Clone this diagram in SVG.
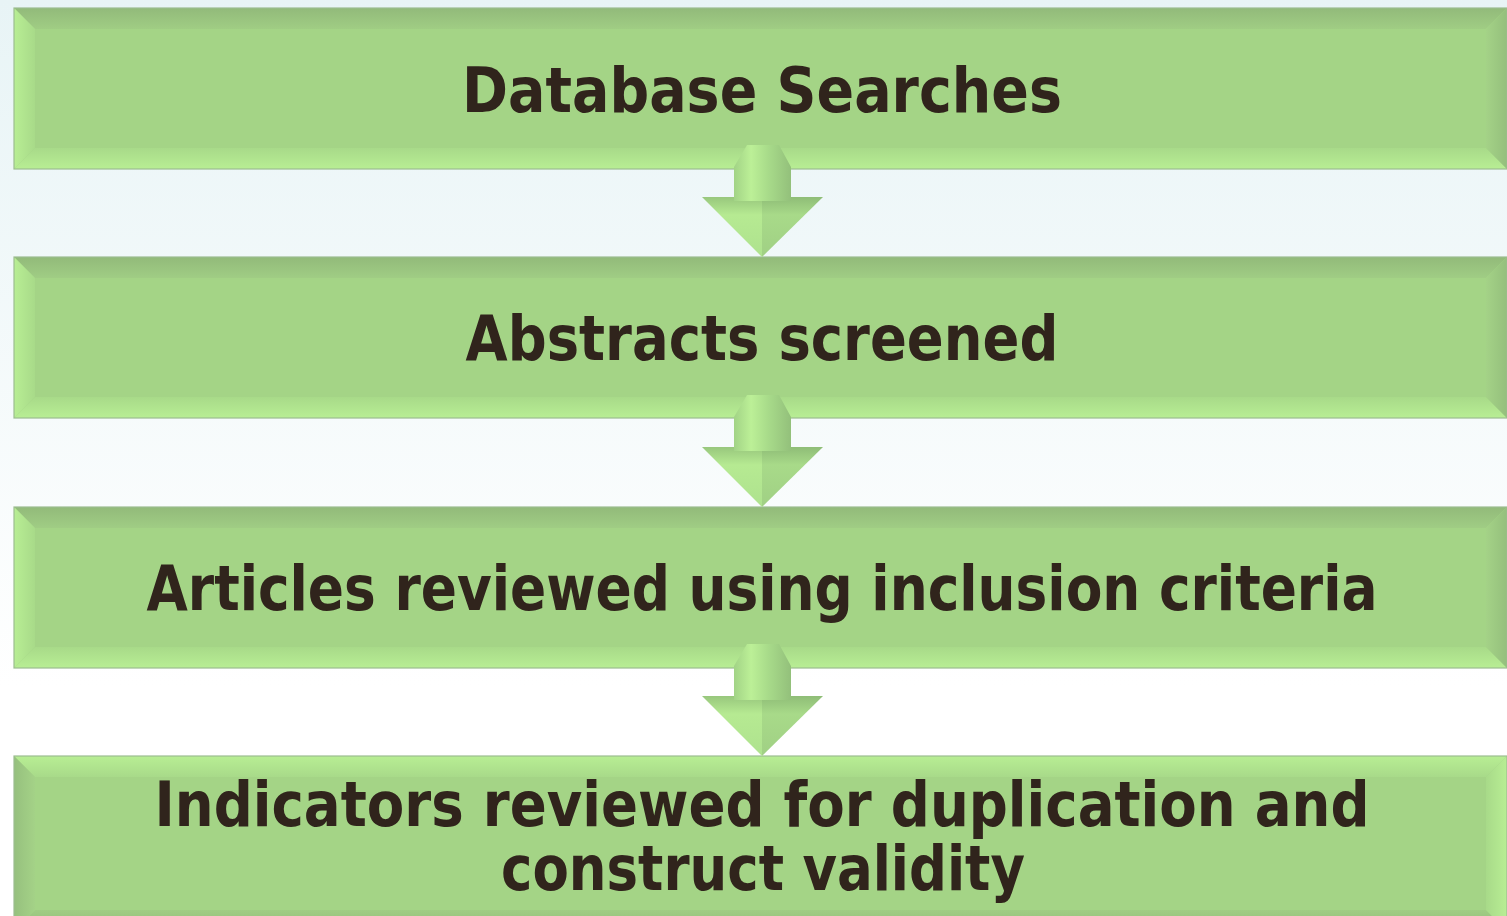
<svg xmlns="http://www.w3.org/2000/svg" xmlns:xlink="http://www.w3.org/1999/xlink" width="1507" height="916" viewBox="0 0 1507 916">
  <defs>
    <linearGradient id="bg" x1="0" y1="0" x2="0" y2="1">
      <stop offset="0" stop-color="#e8f4f6"/>
      <stop offset="0.75" stop-color="#ffffff"/>
      <stop offset="1" stop-color="#ffffff"/>
    </linearGradient>
    <!-- bevel shades: dark / light, in the four directions -->
    <linearGradient id="topDark" x1="0" y1="0" x2="0" y2="1">
      <stop offset="0" stop-color="#92ba7a"/>
      <stop offset="1" stop-color="#a0cd84"/>
    </linearGradient>
    <linearGradient id="topLight" x1="0" y1="0" x2="0" y2="1">
      <stop offset="0" stop-color="#b8ee94"/>
      <stop offset="1" stop-color="#a8da89"/>
    </linearGradient>
    <linearGradient id="botLight" x1="0" y1="0" x2="0" y2="1">
      <stop offset="0" stop-color="#a8da89"/>
      <stop offset="1" stop-color="#b8ee94"/>
    </linearGradient>
    <linearGradient id="botDark" x1="0" y1="0" x2="0" y2="1">
      <stop offset="0" stop-color="#a0cd84"/>
      <stop offset="1" stop-color="#92ba7a"/>
    </linearGradient>
    <linearGradient id="leftLight" x1="0" y1="0" x2="1" y2="0">
      <stop offset="0" stop-color="#b8ee94"/>
      <stop offset="1" stop-color="#a8da89"/>
    </linearGradient>
    <linearGradient id="leftDark" x1="0" y1="0" x2="1" y2="0">
      <stop offset="0" stop-color="#96c07e"/>
      <stop offset="1" stop-color="#a4d287"/>
    </linearGradient>
    <linearGradient id="rightDark" x1="0" y1="0" x2="1" y2="0">
      <stop offset="0" stop-color="#a4d287"/>
      <stop offset="1" stop-color="#94bf7c"/>
    </linearGradient>
    <linearGradient id="rightLight" x1="0" y1="0" x2="1" y2="0">
      <stop offset="0" stop-color="#a8da89"/>
      <stop offset="1" stop-color="#b8ee94"/>
    </linearGradient>
    <!-- arrow shading -->
    <linearGradient id="shaft" x1="0" y1="0" x2="1" y2="0">
      <stop offset="0" stop-color="#a2d386"/>
      <stop offset="0.3" stop-color="#bcf097"/>
      <stop offset="0.6" stop-color="#a8db8a"/>
      <stop offset="1" stop-color="#93c07b"/>
    </linearGradient>
    <linearGradient id="headL" x1="0" y1="0" x2="0" y2="1">
      <stop offset="0" stop-color="#98c77d"/>
      <stop offset="0.3" stop-color="#b6ea92"/>
      <stop offset="1" stop-color="#aee28e"/>
    </linearGradient>
    <linearGradient id="headR" x1="0" y1="0" x2="0" y2="1">
      <stop offset="0" stop-color="#8fbd77"/>
      <stop offset="0.3" stop-color="#a8da89"/>
      <stop offset="1" stop-color="#a0d084"/>
    </linearGradient>
    <g id="arrow">
      <path d="M-60,52 L0,52 L0,112 Z" fill="url(#headL)"/>
      <path d="M0,52 L61,52 L0,112 Z" fill="url(#headR)"/>
      <path d="M-15,0 L17,0 L29,22 L29,56 L-28,56 L-28,22 Z" fill="url(#shaft)"/>
    </g>
  </defs>
  <style>
    .frame { fill: none; stroke: #9cbd90; stroke-width: 1.2; }
    .face { fill: #a4d486; }
    .label { font-family: "DejaVu Sans", "Liberation Sans", sans-serif; font-weight: bold; font-size: 62px; fill: #30241c; text-anchor: middle; }
  </style>

  <rect width="1507" height="916" fill="url(#bg)"/>

  <!-- step 1 -->
  <g id="node-database-searches">
    <rect class="face" x="14" y="8" width="1493" height="161"/>
    <polygon points="14,8 1507,8 1486,29 35,29" fill="url(#topDark)"/>
    <polygon points="14,169 1507,169 1486,148 35,148" fill="url(#botLight)"/>
    <polygon points="14,8 35,29 35,148 14,169" fill="url(#leftLight)"/>
    <polygon points="1507,8 1486,29 1486,148 1507,169" fill="url(#rightDark)"/>
    <rect class="frame" x="14" y="8" width="1493" height="161"/>
    <text class="label" x="762" y="112" textLength="600" lengthAdjust="spacingAndGlyphs">Database Searches</text>
  </g>

  <!-- step 2 -->
  <g id="node-abstracts-screened">
    <rect class="face" x="14" y="257" width="1493" height="161"/>
    <polygon points="14,257 1507,257 1486,278 35,278" fill="url(#topDark)"/>
    <polygon points="14,418 1507,418 1486,397 35,397" fill="url(#botLight)"/>
    <polygon points="14,257 35,278 35,397 14,418" fill="url(#leftLight)"/>
    <polygon points="1507,257 1486,278 1486,397 1507,418" fill="url(#rightDark)"/>
    <rect class="frame" x="14" y="257" width="1493" height="161"/>
    <text class="label" x="762" y="360" textLength="593" lengthAdjust="spacingAndGlyphs">Abstracts screened</text>
  </g>

  <!-- step 3 -->
  <g id="node-articles-reviewed">
    <rect class="face" x="14" y="507" width="1493" height="161"/>
    <polygon points="14,507 1507,507 1486,528 35,528" fill="url(#topDark)"/>
    <polygon points="14,668 1507,668 1486,647 35,647" fill="url(#botLight)"/>
    <polygon points="14,507 35,528 35,647 14,668" fill="url(#leftLight)"/>
    <polygon points="1507,507 1486,528 1486,647 1507,668" fill="url(#rightDark)"/>
    <rect class="frame" x="14" y="507" width="1493" height="161"/>
    <text class="label" x="762" y="610" textLength="1231" lengthAdjust="spacingAndGlyphs">Articles reviewed using inclusion criteria</text>
  </g>

  <!-- step 4 -->
  <g id="node-indicators-reviewed">
    <rect class="face" x="14" y="756" width="1493" height="175"/>
    <polygon points="14,756 1507,756 1486,777 35,777" fill="url(#topLight)"/>
    <polygon points="14,931 1507,931 1486,910 35,910" fill="url(#botDark)"/>
    <polygon points="14,756 35,777 35,910 14,931" fill="url(#leftDark)"/>
    <polygon points="1507,756 1486,777 1486,910 1507,931" fill="url(#rightLight)"/>
    <rect class="frame" x="14" y="756" width="1493" height="175"/>
    <text class="label" x="762" y="826" textLength="1215" lengthAdjust="spacingAndGlyphs">Indicators reviewed for duplication and</text>
    <text class="label" x="763" y="890" textLength="524" lengthAdjust="spacingAndGlyphs">construct validity</text>
  </g>

  <!-- connectors -->
  <g id="connectors">
    <use xlink:href="#arrow" transform="translate(762,145)"/>
    <use xlink:href="#arrow" transform="translate(762,395)"/>
    <use xlink:href="#arrow" transform="translate(762,644)"/>
  </g>
</svg>
